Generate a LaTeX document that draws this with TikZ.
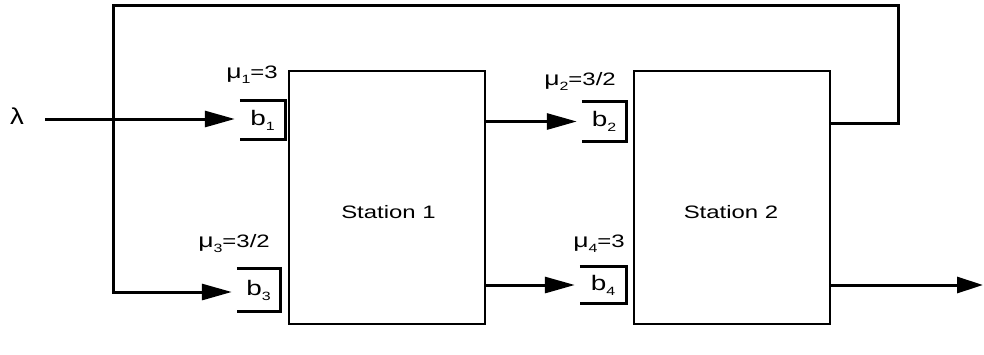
\documentclass[tikz,border=0pt]{standalone}
\usepackage{fontspec}
\usepackage{graphicx}
\setmainfont{Liberation Sans}
\usetikzlibrary{arrows.meta}
\newcommand\widetxt[1]{\scalebox{1.33}[1]{#1}}
\newcommand\subdig[1]{\raisebox{-5pt}{\fontsize{12}{12}\selectfont #1}}
\begin{document}
\begin{tikzpicture}[x=1pt,y=-1pt,
  station/.style={draw,line width=2pt,minimum width=196pt,minimum height=253pt,inner sep=0pt},
  stxt/.style={inner sep=0pt,anchor=base,font=\fontsize{18}{20}\selectfont},
  bufnode/.style={inner sep=0pt,font=\fontsize{21}{23}\selectfont},
  bufline/.style={line width=3pt},
  flow/.style={line width=3pt,-{Triangle[length=30pt,width=16pt]},shorten >=5pt},
  lbl/.style={inner sep=0pt,anchor=base,font=\fontsize{18}{20}\selectfont}
]
\useasboundingbox (0,0) rectangle (984,354);
\node[station] (S1) at (387,197.5) {};
\node[station] (S2) at (732,197.5) {};
\node[stxt] (t1) at (388.5,218) {\widetxt{Station 1}};
\node[stxt] (t2) at (731,218) {\widetxt{Station 2}};

\node[bufnode,minimum width=45pt,minimum height=38pt] (b1) at (262.5,120) {\widetxt{b\subdig{1}}};
\node[bufnode,minimum width=43pt,minimum height=42pt] (b3) at (258.5,290) {\widetxt{b\subdig{3}}};
\node[bufnode,minimum width=44pt,minimum height=39pt] (b2) at (604,121.5) {\widetxt{b\subdig{2}}};
\node[bufnode,minimum width=46pt,minimum height=36pt] (b4) at (603,285) {\widetxt{b\subdig{4}}};

\foreach \b in {b1,b2,b3,b4}
  \draw[bufline] (\b.north west) -- (\b.north east) -- (\b.south east) -- (\b.south west);

\node[lbl] (m1) at (252,78) {\widetxt{{\fontsize{20}{20}\selectfont μ}\subdig{1}=3}};
\node[lbl] (m2) at (580,85) {\widetxt{{\fontsize{20}{20}\selectfont μ}\subdig{2}=3/2}};
\node[lbl] (m3) at (234,247) {\widetxt{{\fontsize{20}{20}\selectfont μ}\subdig{3}=3/2}};
\node[lbl] (m4) at (599,247) {\widetxt{{\fontsize{20}{20}\selectfont μ}\subdig{4}=3}};

\node[inner sep=0pt,font=\fontsize{23}{23}\selectfont] (lam) at (17,116) {\scalebox{1.2}[1]{λ}};
\coordinate (in) at (45,119);
\coordinate (fbR) at (898,5);
\coordinate (fbL) at (113,5);
\coordinate (out) at (983,285);

\draw[flow] (in) -- (b1.west |- in);
\draw[flow] (S1.east |- b2) -- (b2.west);
\draw[flow] (S1.east |- b4) -- (b4.west);
\draw[flow] (S2.east |- 0,123) -| (fbR) -- (fbL) |- (b3.west |- 0,292);
\draw[line width=3pt,-{Triangle[length=26pt,width=16pt]}] (S2.east |- out) -- (out);
\end{tikzpicture}
\end{document}
